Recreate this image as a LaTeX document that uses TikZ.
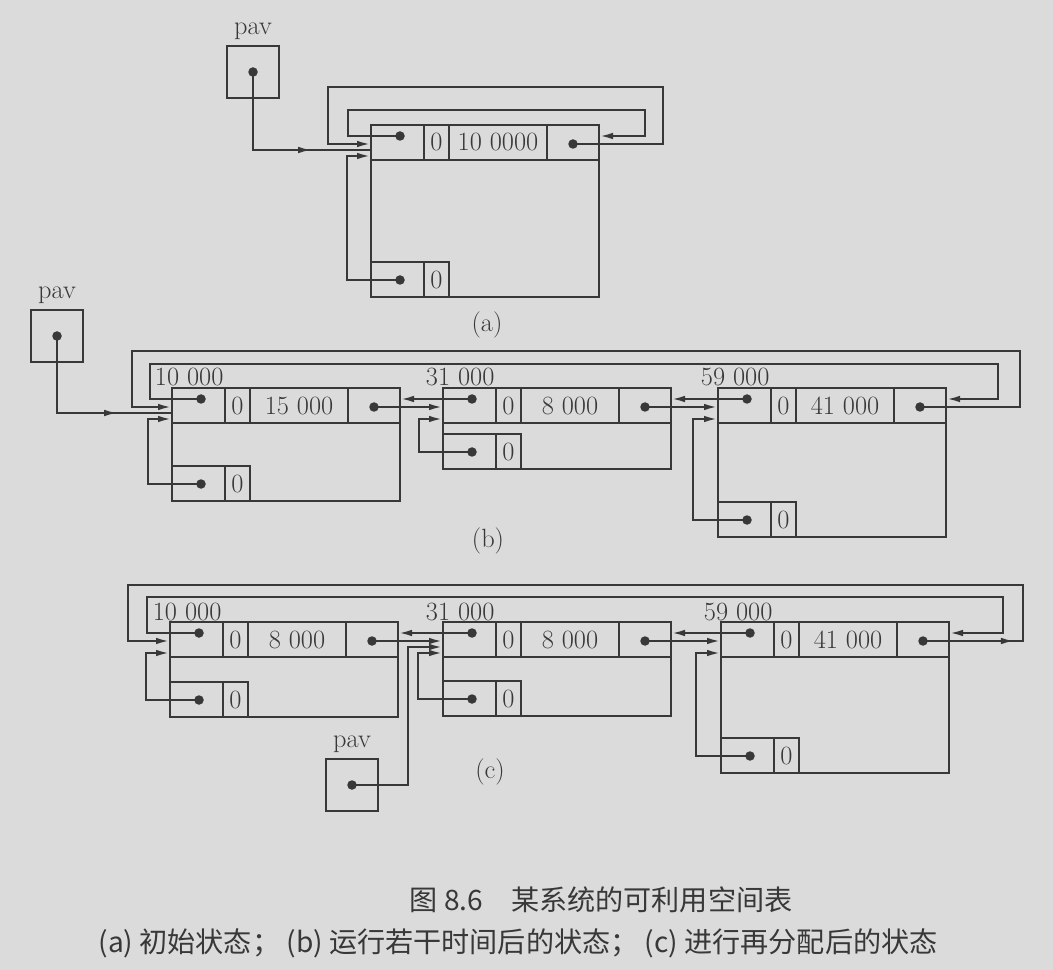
\documentclass[tikz,border=0pt]{standalone}
\usepackage{fontspec}
\newfontfamily\cjk{Noto Sans CJK SC}
\usetikzlibrary{positioning, arrows.meta, decorations.markings}

\definecolor{paper}{gray}{0.86}
\definecolor{ink}{gray}{0.22}

% one block of the free list: #1 name, (#2,#3) upper left corner, #4 height, #5 size, #6 address
\newcommand{\freeblk}[6]{%
  \begin{scope}[shift={(#2,#3)}]
    \draw (0,0) rectangle (228,#4);
    \draw (0,35) -- (228,35) (53,0) -- (53,35) (78,0) -- (78,35) (176,0) -- (176,35);
    \draw (0,#4-35) -- (78,#4-35) -- (78,#4) (53,#4-35) -- (53,#4);
    \node[num] (#1-tag) at (65.5,17.5) {0};
    \node[num] (#1-size) at (127,17.5) {#5};
    \node[num] (#1-foot) at (65.5,#4-17.5) {0};
    \node[dot] (#1-ll) at (29,11) {};
    \node[dot] (#1-rl) at (202,19) {};
    \node[dot] (#1-up) at (29,#4-17) {};
    \node[num, anchor=base west] (#1-addr) at (-20,-2) {#6};
    \coordinate (#1-in1) at (0,19);
    \coordinate (#1-in2) at (0,25);
    \coordinate (#1-in3) at (0,31);
    \coordinate (#1-out) at (228,11);
  \end{scope}}

\begin{document}
\begin{tikzpicture}[x=0.2mm, y=-0.2mm, color=ink, line width=1.3pt,
    num/.style={font=\fontsize{15}{17}\selectfont, inner sep=1pt},
    dot/.style={circle, fill=ink, inner sep=0pt, minimum size=1.9mm},
    ptrbox/.style={draw, minimum size=10.4mm, inner sep=0pt},
    ptr/.style={-{Latex[length=2.8mm,width=1.3mm]}},
    midptr/.style={postaction={decorate}, decoration={markings,
      mark=at position #1 with {\arrow{Latex[length=2.8mm,width=1.3mm]}}}},
    captxt/.style={font=\cjk\fontsize{16}{18}\selectfont}]

    % paper
    \fill[paper] (0,0) rectangle (1053,970);

    % ================= (a) =================
    \node[ptrbox] (pa) at (253,72) {};
    \node[dot] (pa-dot) at (pa.center) {};
    \node[num, above=0.4mm of pa] (pa-lbl) {pav};
    \freeblk{a}{371}{125}{172}{10 0000}{}

    % pav
    \draw[midptr=0.7] (pa-dot.center) |- (a-in2);
    % llink and rlink point to the block itself
    \draw[ptr] (a-ll.center) -- ++(-52,0) |- (645,110) |- (a-out);
    \draw[ptr] (a-rl.center) -| (663,87) -- (328,87) |- (a-in1);
    % uplink
    \draw[ptr] (a-up.center) -- ++(-53,0) |- (a-in3);

    \node[num] (a-cap) at (487,325) {(a)};

    % ================= (b) =================
    \node[ptrbox] (pb) at (57,336) {};
    \node[dot] (pb-dot) at (pb.center) {};
    \node[num, above=0.4mm of pb] (pb-lbl) {pav};
    \freeblk{b1}{172}{388}{113}{15 000}{10 000}
    \freeblk{b2}{443}{388}{81}{8 000}{31 000}
    \freeblk{b3}{718}{388}{149}{41 000}{59 000}

    % pav
    \draw[midptr=0.72] (pb-dot.center) |- (b1-in2);
    % rlink and llink between neighbours
    \draw[ptr] (b1-rl.center) -- (b2-in1);
    \draw[ptr] (b2-ll.center) -- (b1-out);
    \draw[ptr] (b2-rl.center) -- (b3-in1);
    \draw[ptr] (b3-ll.center) -- (b2-out);
    % closing the ring
    \draw[ptr] (b1-ll.center) -- ++(-51,0) |- (998,364) |- (b3-out);
    \draw[ptr] (b3-rl.center) -| (1020,351) -- (132,351) |- (b1-in1);
    % uplinks
    \draw[ptr] (b1-up.center) -- ++(-53,0) |- (b1-in3);
    \draw[ptr] (b2-up.center) -- ++(-53,0) |- (b2-in3);
    \draw[ptr] (b3-up.center) -- ++(-54,0) |- (b3-in3);

    \node[num] (b-cap) at (488,541) {(b)};

    % ================= (c) =================
    \freeblk{c1}{170}{622}{95}{8 000}{10 000}
    \freeblk{c2}{443}{622}{94}{8 000}{31 000}
    \freeblk{c3}{721}{622}{151}{41 000}{59 000}
    \node[ptrbox] (pc) at (352,785) {};
    \node[dot] (pc-dot) at (pc.center) {};
    \node[num, above=0.4mm of pc] (pc-lbl) {pav};

    % pav
    \draw[ptr] (pc-dot.center) -- ++(56,0) |- (c2-in2);
    % rlink and llink between neighbours
    \draw[ptr] (c1-rl.center) -- (c2-in1);
    \draw[ptr] (c2-ll.center) -- (c1-out);
    \draw[ptr] (c2-rl.center) -- (c3-in1);
    \draw[ptr] (c3-ll.center) -- (c2-out);
    % closing the ring
    \draw[ptr] (c1-ll.center) -- ++(-52,0) |- (1003,597) |- (c3-out);
    \draw[ptr, midptr=0.08] (c3-rl.center) -| (1023,585) -- (128,585) |- (c1-in1);
    % uplinks
    \draw[ptr] (c1-up.center) -- ++(-53,0) |- (c1-in3);
    \draw[ptr] (c2-up.center) -- ++(-54,0) |- (c2-in3);
    \draw[ptr] (c3-up.center) -- ++(-54,0) |- (c3-in3);

    \node[num] (c-cap) at (490,772) {(c)};

    % ================= caption =================
    \node[captxt] (cap1) at (601,900) {图 8.6　某系统的可利用空间表};
    \node[captxt] (cap2) at (518,943) {(a) 初始状态；\ (b) 运行若干时间后的状态；\ (c) 进行再分配后的状态};

\end{tikzpicture}
\end{document}
